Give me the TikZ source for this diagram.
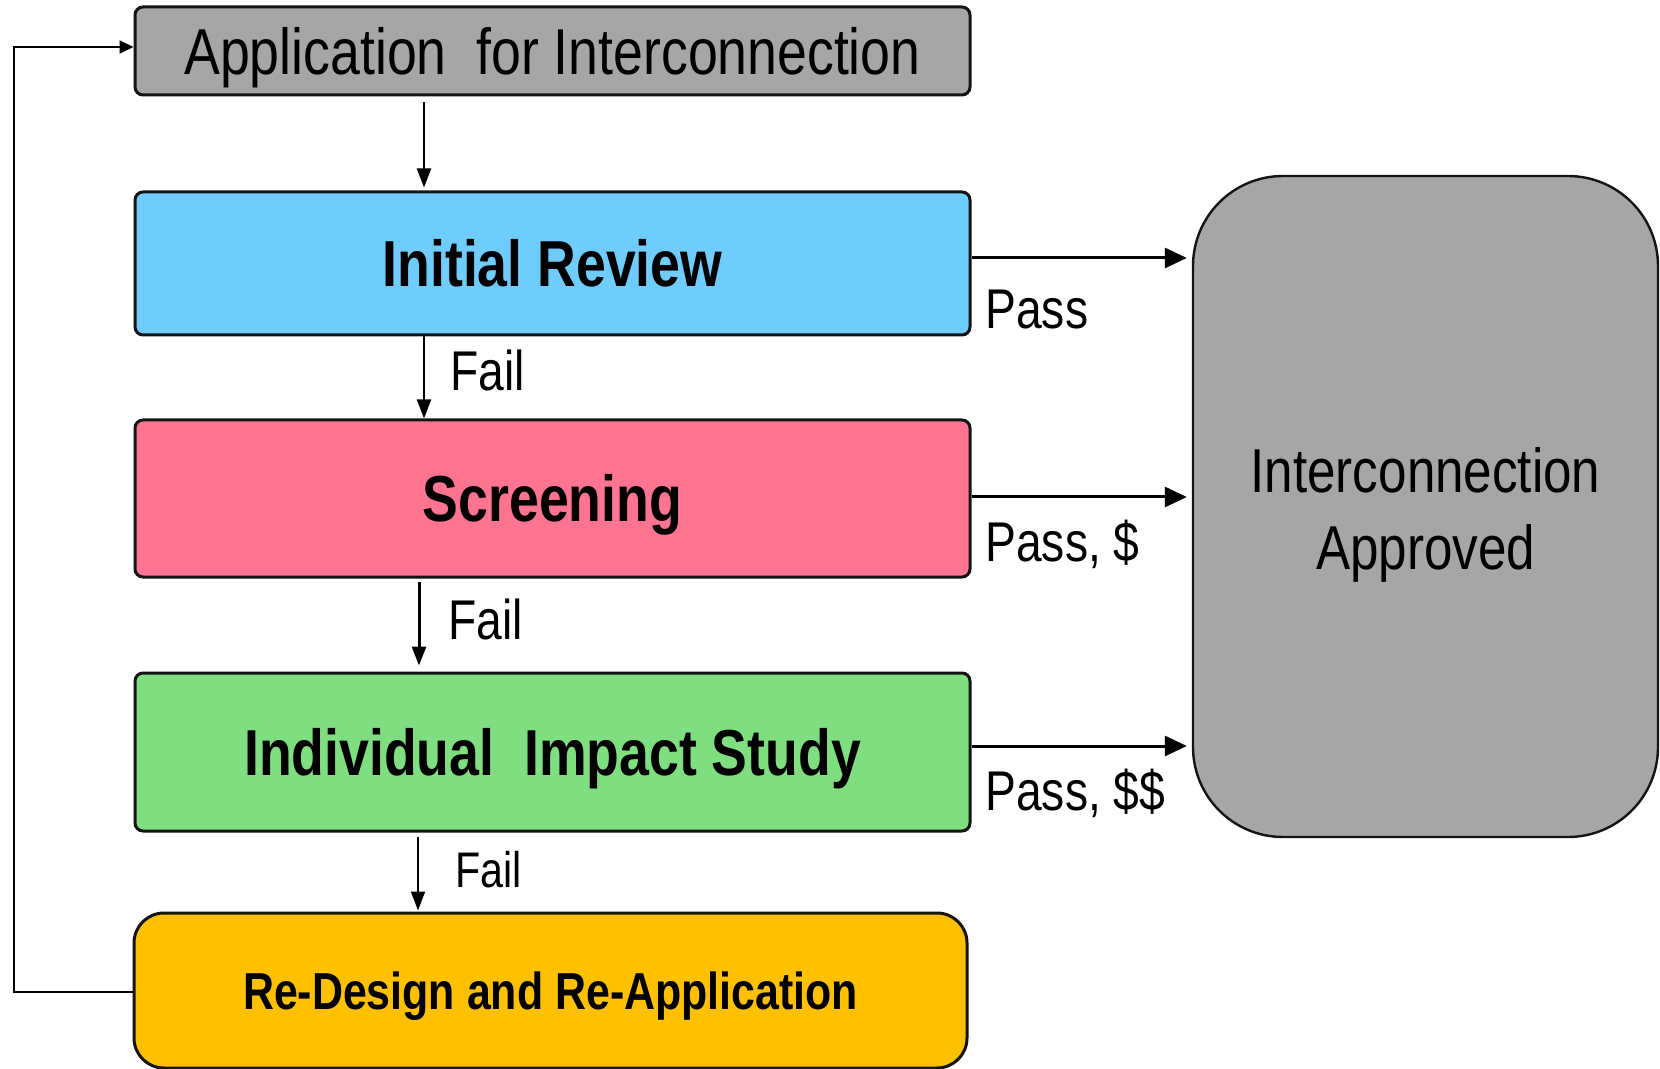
\documentclass[tikz,border=0pt]{standalone}
\usepackage{fontspec}
\setmainfont{Liberation Sans}[FakeStretch=0.825]
\usetikzlibrary{arrows.meta}
\definecolor{boxgray}{HTML}{A6A6A6}
\definecolor{reviewblue}{HTML}{6FCDFE}
\definecolor{screenpink}{HTML}{FF7490}
\definecolor{studygreen}{HTML}{7FDE80}
\definecolor{redesignamber}{HTML}{FFC000}
\definecolor{edge}{HTML}{141414}
\tikzset{
  stage/.style={draw=edge, line width=1.5pt, rounded corners=4pt, inner sep=0pt,
                minimum width=417.5pt, align=center, text depth=0pt},
  bigtext/.style={font=\fontsize{32.5}{39}\selectfont, text height=23.3pt},
  flow/.style={draw=black, line width=1pt,
               -{Triangle[length=9.5pt, width=7pt]}},
  passflow/.style={draw=black, line width=1.5pt,
               -{Triangle[length=11pt, width=10pt]}},
  lbl/.style={inner sep=0pt, anchor=base west}
}
\begin{document}
\begin{tikzpicture}[x=0.5pt, y=-0.5pt]
\useasboundingbox (0,0) rectangle (1660,1069);

% process stages
\node[stage, bigtext, fill=boxgray, minimum height=44pt] (app) at (552.5,51)
      {Application\ \ for Interconnection};
\node[stage, bigtext, fill=reviewblue, minimum height=71.5pt,
      font=\fontsize{32.5}{39}\selectfont\bfseries] (ir) at (552.5,263.5)
      {Initial Review};
\node[stage, bigtext, fill=screenpink, minimum height=78.5pt,
      font=\fontsize{32.5}{39}\selectfont\bfseries] (scr) at (552.5,498.5)
      {Screening};
\node[stage, bigtext, fill=studygreen, minimum height=79pt,
      font=\fontsize{32.5}{39}\selectfont\bfseries] (iis) at (552.5,752)
      {Individual\ \ Impact Study};
\node[stage, fill=redesignamber, minimum width=416.5pt, minimum height=77.5pt,
      rounded corners=15pt, text height=18.6pt,
      font=\fontsize{26}{31}\selectfont\bfseries] (rd) at (550.5,990.5)
      {Re-Design and Re-Application};

% outcome: the two lines are measured from the last baseline up to the first cap top
\node[draw=edge, line width=1.2pt, fill=boxgray, rounded corners=45pt,
      minimum width=232.5pt, minimum height=330.5pt, inner sep=0pt,
      text height=63.3pt, text depth=0pt,
      align=center, font=\fontsize{31}{38.5}\selectfont] (ok) at (1425.5,506.5)
      {Interconnection\\Approved};

% x positions of the downward connectors
\coordinate (xa) at (424,0);
\coordinate (xb) at (419,0);
\coordinate (xc) at (418,0);

% downward flow
\draw[flow, shorten <=3pt, shorten >=1.5pt] (app.south -| xa) -- (ir.north -| xa);
\draw[flow] (ir.south -| xa) -- (scr.north -| xa);
\draw[flow, line width=1.5pt, shorten <=1.5pt, shorten >=3pt] (scr.south -| xb) -- (iis.north -| xb);
\draw[flow, shorten <=2pt, shorten >=0.5pt] (iis.south -| xc) -- (rd.north -| xc);

% pass connectors
\coordinate (ya) at (0,258);
\coordinate (yb) at (0,497);
\coordinate (yc) at (0,746);
\draw[passflow, shorten >=2.5pt] (ir.east |- ya) -- (ok.west |- ya);
\draw[passflow, shorten >=2.5pt] (scr.east |- yb) -- (ok.west |- yb);
\draw[passflow, shorten >=2.5pt] (iis.east |- yc) -- (ok.west |- yc);

% return loop
\coordinate (loopx) at (14,0);
\coordinate (loopin) at (0,47);
\draw[draw=black, line width=1pt, -{Triangle[length=7pt, width=6.5pt]}]
  (rd.west |- 0,992) -| (loopx |- loopin) -- (app.west |- loopin);

% labels
\node[lbl, font=\fontsize{28}{33}\selectfont] (lp1) at (985,329) {Pass};
\node[lbl, font=\fontsize{28}{33}\selectfont] (lp2) at (985,561) {Pass, \$};
\node[lbl, font=\fontsize{28}{33}\selectfont] (lp3) at (985,810) {Pass, \$\$};
\node[lbl, font=\fontsize{28}{33}\selectfont] (lf1) at (450,391) {Fail};
\node[lbl, font=\fontsize{28}{33}\selectfont] (lf2) at (448,639) {Fail};
\node[lbl, font=\fontsize{25}{30}\selectfont] (lf3) at (455,887) {Fail};
\end{tikzpicture}
\end{document}
